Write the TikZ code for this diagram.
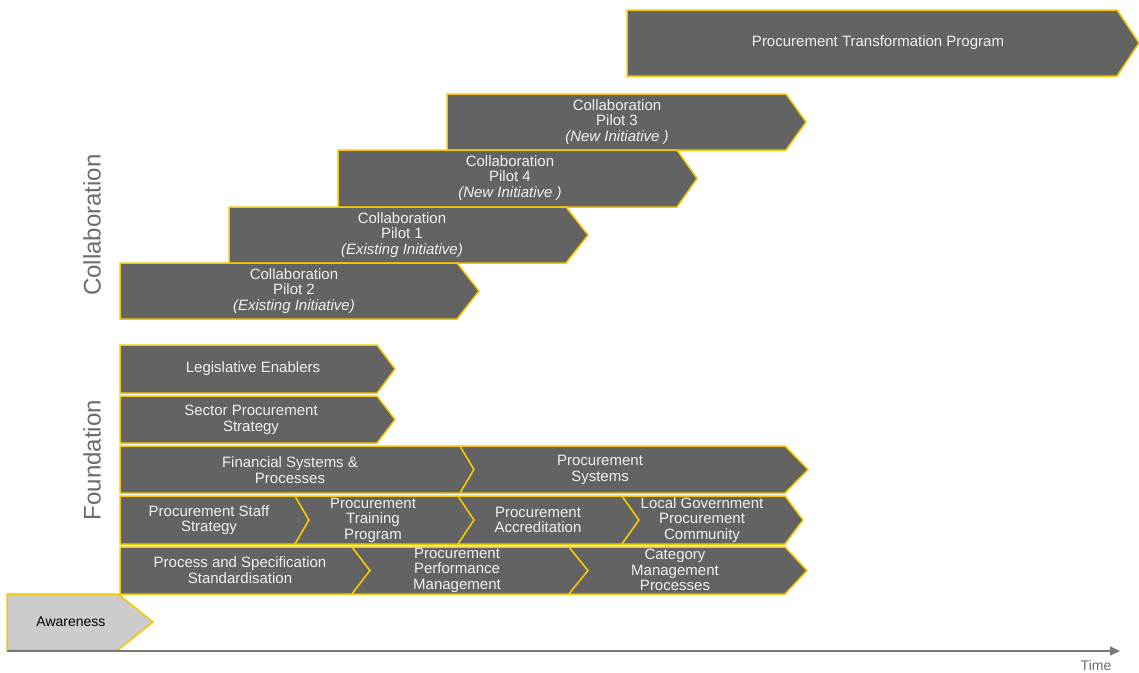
\documentclass[tikz,border=0pt]{standalone}
\usepackage{fontspec}
\setmainfont{Liberation Sans}
\usetikzlibrary{arrows.meta}

\definecolor{barfill}{HTML}{636363}
\definecolor{baredge}{HTML}{F2C800}
\definecolor{awarefill}{HTML}{CCCCCC}
\definecolor{sidegray}{HTML}{6B6B6B}
\definecolor{axisgray}{HTML}{787878}

% chevron bar: [style] left, notch depth, straight end, tip, top, bottom
\newcommand{\roadbar}[7][bar]{%
  \draw[#1] (#2,#6) -- (#4,#6) -- (#5,{(#6+#7)/2}) -- (#4,#7) -- (#2,#7) -- ({#2+#3},{(#6+#7)/2}) -- cycle;}

\begin{document}
\begin{tikzpicture}[x=1pt, y=-1pt, bar/.style = {fill=barfill, draw=baredge, line width=1.5pt, line join=miter}, awarebar/.style = {bar, fill=awarefill}, bartext/.style = {text=white!94!black, align=center, font=\fontsize{15}{15.5}\selectfont}, sidelabel/.style = {text=sidegray, rotate=90, font=\fontsize{24}{26}\selectfont}, axis/.style = {draw=axisgray, line width=1.5pt, -{Triangle[length=10pt,width=9pt]}}]
    \useasboundingbox (0,0) rectangle (1139,672);

    % collaboration
    \roadbar{627}{0}{1117}{1139}{10}{76}
    \roadbar{447}{0}{786}{806}{94}{150}
    \roadbar{338}{0}{677}{697}{150}{207}
    \roadbar{229}{0}{566}{588}{207}{263}
    \roadbar{120}{0}{457}{479}{263}{319}
    \node[bartext] (transform) at (878,43) {Procurement Transformation Program};
    \node[bartext] (pilot3) at (617,122) {Collaboration\\Pilot 3\\\textit{(New Initiative )}};
    \node[bartext] (pilot4) at (510,178) {Collaboration\\Pilot 4\\\textit{(New Initiative )}};
    \node[bartext] (pilot1) at (402,235) {Collaboration\\Pilot 1\\\textit{(Existing Initiative)}};
    \node[bartext] (pilot2) at (294,291) {Collaboration\\Pilot 2\\\textit{(Existing Initiative)}};

    % foundation
    \roadbar{120}{0}{377}{395}{345}{393}
    \roadbar{120}{0}{377}{395}{396}{443}
    \roadbar{120}{0}{460}{474}{446}{493}
    \roadbar{460}{14}{785}{808}{446}{493}
    \roadbar{120}{0}{295}{309}{496}{544}
    \roadbar{295}{14}{458}{474}{496}{544}
    \roadbar{458}{16}{622}{639}{496}{544}
    \roadbar{622}{17}{785}{803}{496}{544}
    \roadbar{120}{0}{352}{370}{547}{594}
    \roadbar{352}{18}{569}{588}{547}{594}
    \roadbar{569}{19}{785}{807}{547}{594}
    \node[bartext] (legislative) at (253,369) {Legislative Enablers};
    \node[bartext] (sector) at (251,420) {Sector Procurement\\Strategy};
    \node[bartext] (financial) at (290,470) {Financial Systems \&\\Processes};
    \node[bartext] (systems) at (600,470) {Procurement\\Systems};
    \node[bartext] (staff) at (209,520) {Procurement Staff\\Strategy};
    \node[bartext] (training) at (373,520) {Procurement\\Training\\Program};
    \node[bartext] (accreditation) at (538,520) {Procurement\\Accreditation};
    \node[bartext] (localgov) at (702,520) {Local Government\\Procurement\\Community};
    \node[bartext] (standard) at (240,570) {Process and Specification\\Standardisation};
    \node[bartext] (performance) at (457,570) {Procurement\\Performance\\Management};
    \node[bartext] (category) at (675,570) {Category\\Management\\Processes};

    % awareness
    \roadbar[awarebar]{7}{0}{118}{153}{594}{650}
    \node[bartext, text=black, font=\fontsize{14}{15}\selectfont] (awareness) at (71,622) {Awareness};

    % side labels
    \node[sidelabel] (collab) at (92,225) {Collaboration};
    \node[sidelabel] (found) at (92,460) {Foundation};

    % time axis
    \coordinate (tstart) at (7,651);
    \coordinate (tend) at (1120,651);
    \draw[axis] (tstart) -- (tend);
    \node[text=sidegray, font=\fontsize{14}{15}\selectfont] (time) at (1096,665) {Time};
\end{tikzpicture}
\end{document}
